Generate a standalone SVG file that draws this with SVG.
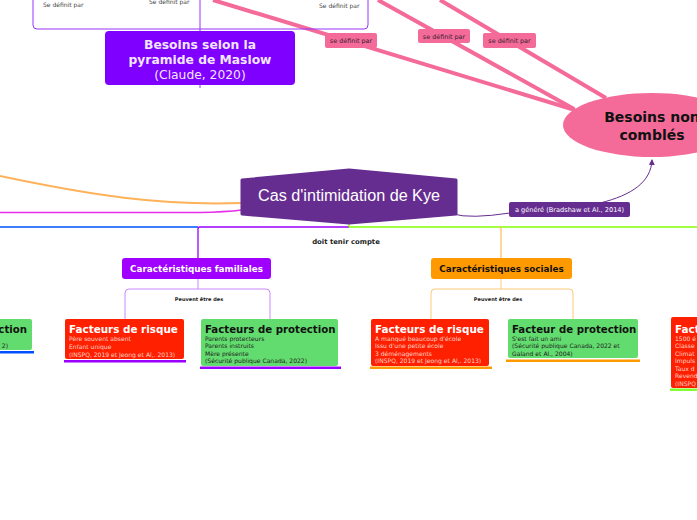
<svg xmlns="http://www.w3.org/2000/svg" width="697" height="520" viewBox="0 0 697 520">
<defs>
<marker id="arr" markerWidth="6" markerHeight="6" refX="5" refY="3" orient="auto" markerUnits="userSpaceOnUse">
<path d="M0,0 L6,3 L0,6 z" fill="#662d91"/>
</marker>
</defs>
<style>
text{font-family:"DejaVu Sans","Liberation Sans",sans-serif}
.pink{stroke:#f46b99;stroke-width:4;fill:none}
.lbl{fill:#f46b99}
.lbltx{font-size:6.4px;fill:#3a2030}
.sdp{font-size:6px;fill:#444}
.ttlw{font-size:10.4px;font-weight:bold;fill:#fff}
.ttlb{font-size:10.2px;font-weight:bold;fill:#111}
.sw{font-size:6.05px;fill:#ffd0c6}
.sb{font-size:6.05px;fill:#222}
.red{fill:#ff2000}
.grn{fill:#62dc6e}
.pv{font-size:5px;font-weight:bold;fill:#222}
</style>
<rect width="697" height="520" fill="#fff"/>

<g id="connectors">
<path class="pink" d="M213 0 L575 110"/>
<path class="pink" d="M378 0 L574 109"/>
<path class="pink" d="M440 0 L606 98"/>
<path d="M0 176 C90 195 160 206 242 203" stroke="#fdb25a" stroke-width="2" fill="none"/>
<path d="M0 212.5 L200 212.5 Q225 212 242 210" stroke="#e82ee8" stroke-width="1.3" fill="none"/>
<path d="M453 214 Q470 219 510 213" stroke="#662d91" stroke-width="1" fill="none"/>
<path d="M600 203 C632 195 651 182 652 160" stroke="#662d91" stroke-width="1" fill="none" marker-end="url(#arr)"/>
<line x1="0" y1="227" x2="198" y2="227" stroke="#0050ff" stroke-width="1.3"/>
<path d="M198 258 L198 229 Q198 227 200 227 L349 227" stroke="#9900ff" stroke-width="1.3" fill="none"/>
<line x1="349" y1="222" x2="349" y2="227" stroke="#80ff00" stroke-width="1.3"/>
<line x1="349" y1="227" x2="697" y2="227" stroke="#80ff00" stroke-width="1.3"/>
<path d="M499 227 Q501 227 501 230 L501 258" stroke="#ffc266" stroke-width="1.3" fill="none"/>
<path d="M198 279 L198 289 M125 319 L125 293 Q125 289 129 289 L266 289 Q270 289 270 293 L270 319" stroke="#cc88ff" stroke-width="1" fill="none"/>
<path d="M501 279 L501 289 M431 319 L431 293 Q431 289 435 289 L569 289 Q573 289 573 293 L573 319" stroke="#ffc877" stroke-width="1" fill="none"/>
<text class="pv" x="346" y="243.5" text-anchor="middle" style="font-size:6.9px">doit tenir compte</text>
<text class="pv" x="199" y="301" text-anchor="middle">Peuvent être des</text>
<text class="pv" x="498" y="301" text-anchor="middle">Peuvent être des</text>
<rect class="lbl" x="325" y="33" width="52" height="15" rx="2"/>
<text class="lbltx" x="351" y="43" text-anchor="middle">se définit par</text>
<rect class="lbl" x="418" y="29" width="52" height="14" rx="2"/>
<text class="lbltx" x="444" y="38.5" text-anchor="middle">se définit par</text>
<rect class="lbl" x="483" y="33" width="53" height="15" rx="2"/>
<text class="lbltx" x="509.5" y="43" text-anchor="middle">se définit par</text>
<rect x="509" y="202" width="121" height="15" rx="2" fill="#662d91"/>
<text x="569.5" y="212" text-anchor="middle" style="font-size:6.6px;fill:#fff">a généré  (Bradshaw et Al., 2014)</text>
</g>

<g id="frame-top">
<rect x="33" y="-10" width="335" height="39" rx="4" fill="none" stroke="#9933ff" stroke-width="1"/>
<line x1="200" y1="-10" x2="200" y2="88" stroke="#9933ff" stroke-width="1"/>
<text class="sdp" x="43" y="7">Se définit par</text>
<text class="sdp" x="149" y="4">Se définit par</text>
<text class="sdp" x="319" y="8">Se définit par</text>
</g>

<g id="maslow">
<rect x="105" y="31" width="190" height="54" rx="4" fill="#7f00ff"/>
<text x="200" y="48.5" text-anchor="middle" style="font-size:12.3px;font-weight:bold;fill:#f2e6ff">Besoins selon la</text>
<text x="200" y="64" text-anchor="middle" style="font-size:12.3px;font-weight:bold;fill:#f2e6ff">pyramide de Maslow</text>
<text x="200" y="79" text-anchor="middle" style="font-size:12.3px;fill:#f2e6ff">(Claude, 2020)</text>
</g>

<g id="besoins-non-combles">
<ellipse cx="652" cy="125" rx="89" ry="32" fill="#f46b99"/>
<text x="652" y="122" text-anchor="middle" style="font-size:14px;font-weight:bold;fill:#111">Besoins non</text>
<text x="652" y="140" text-anchor="middle" style="font-size:14px;font-weight:bold;fill:#111">comblés</text>
</g>

<g id="cas-kye">
<polygon points="242,180 349,170 456,180 456,214 349,223 242,214" fill="#662d91" stroke="#662d91" stroke-width="3" stroke-linejoin="round"/>
<text x="349" y="201" text-anchor="middle" textLength="182" lengthAdjust="spacingAndGlyphs" style="font-family:'Liberation Sans',sans-serif;font-size:16px;fill:#fff">Cas d'intimidation de Kye</text>
</g>

<g id="car-familiales">
<rect x="122" y="258" width="149" height="21" rx="3" fill="#9f00ff"/>
<text x="196.5" y="272" text-anchor="middle" style="font-size:8.8px;font-weight:bold;fill:#fff">Caractéristiques familiales</text>
</g>

<g id="car-sociales">
<rect x="431" y="258" width="141" height="21" rx="3" fill="#ff9900"/>
<text x="501.5" y="272" text-anchor="middle" style="font-size:8.8px;font-weight:bold;fill:#111">Caractéristiques sociales</text>
</g>

<g id="left-protection">
<rect class="grn" x="-6" y="319" width="38" height="31" rx="2"/>
<rect x="0" y="351" width="34" height="2.5" fill="#0050ff"/>
<text class="ttlb" x="27" y="333" text-anchor="end">ction</text>
<text class="sb" x="8" y="348" text-anchor="end">2)</text>
</g>

<g id="fam-risque">
<rect class="red" x="65" y="319" width="119" height="40" rx="2"/>
<rect x="64" y="360" width="122" height="2.5" fill="#9900ff"/>
<text class="ttlw" x="69" y="333">Facteurs de risque</text>
<text class="sw" x="69" y="341">Père souvent absent</text>
<text class="sw" x="69" y="348.5">Enfant unique</text>
<text class="sw" x="69" y="356.5">(INSPQ, 2019 et Jeong et Al,. 2013)</text>
</g>

<g id="fam-protection">
<rect class="grn" x="201" y="319" width="137" height="47" rx="2"/>
<rect x="200" y="366.5" width="141" height="2.5" fill="#9900ff"/>
<text class="ttlb" x="205" y="333">Facteurs de protection</text>
<text class="sb" x="205" y="340.5">Parents protecteurs</text>
<text class="sb" x="205" y="348">Parents instruits</text>
<text class="sb" x="205" y="355.5">Mère présente</text>
<text class="sb" x="205" y="363">(Sécurité publique Canada, 2022)</text>
</g>

<g id="soc-risque">
<rect class="red" x="371" y="319" width="118" height="47" rx="2"/>
<rect x="370" y="366.5" width="122" height="2.5" fill="#ff9900"/>
<text class="ttlw" x="375" y="333">Facteurs de risque</text>
<text class="sw" x="375" y="340.5">A manqué beaucoup d'école</text>
<text class="sw" x="375" y="348">Issu d'une petite école</text>
<text class="sw" x="375" y="355.5">3 déménagements</text>
<text class="sw" x="375" y="363">(INSPQ, 2019 et Jeong et Al,. 2013)</text>
</g>

<g id="soc-protection">
<rect class="grn" x="508" y="319" width="130" height="39" rx="2"/>
<rect x="506" y="359.5" width="134" height="2.5" fill="#ff9900"/>
<text class="ttlb" x="512" y="333">Facteur de protection</text>
<text class="sb" x="512" y="340.5">S'est fait un ami</text>
<text class="sb" x="512" y="348">(Sécurité publique Canada, 2022 et</text>
<text class="sb" x="512" y="355.5">Galand et Al., 2004)</text>
</g>

<g id="right-risque">
<rect class="red" x="671" y="317" width="40" height="71" rx="2"/>
<rect x="670" y="388.5" width="30" height="2.5" fill="#80ff33"/>
<text class="ttlw" x="675" y="333">Facteurs</text>
<text class="sw" x="675" y="340.5">1500 é</text>
<text class="sw" x="675" y="348">Classe</text>
<text class="sw" x="675" y="355.5">Climat</text>
<text class="sw" x="675" y="363">Impuls</text>
<text class="sw" x="675" y="370.5">Taux d</text>
<text class="sw" x="675" y="378">Revend</text>
<text class="sw" x="675" y="385.5">(INSPQ</text>
</g>
</svg>
